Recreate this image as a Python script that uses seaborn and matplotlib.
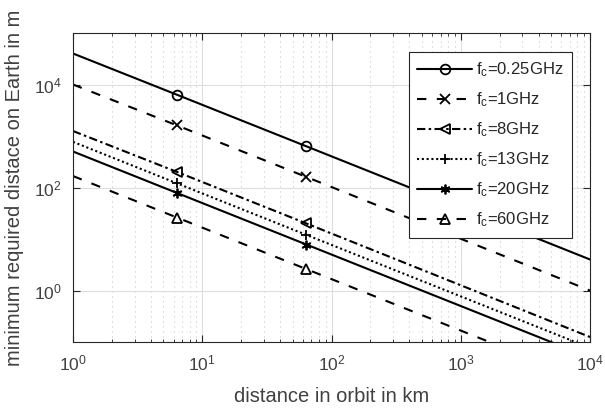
import matplotlib
matplotlib.use("Agg")
import matplotlib.pyplot as plt
import seaborn as sns
import numpy as np
import pandas as pd
from matplotlib.ticker import LogLocator, NullFormatter, FixedLocator

# ---- data ----
distance_km = [1.0, 6.4, 64.0, 1.0e4]
labels = [r"f$_\mathrm{c}$=0.25GHz", r"f$_\mathrm{c}$=1GHz", r"f$_\mathrm{c}$=8GHz",
          r"f$_\mathrm{c}$=13GHz", r"f$_\mathrm{c}$=20GHz", r"f$_\mathrm{c}$=60GHz"]
y_025 = [4.0e4, 6.3e3, 6.3e2, 4.0]
y_1 = [1.0e4, 1.6e3, 1.6e2, 1.0]
y_8 = [1.25e3, 2.0e2, 2.0e1, 0.125]
y_13 = [7.7e2, 1.2e2, 1.2e1, 0.077]
y_20 = [5.0e2, 7.8e1, 7.8, 0.05]
y_60 = [1.67e2, 2.6e1, 2.6, 0.0167]
series = [y_025, y_1, y_8, y_13, y_20, y_60]

markers = ["o", "x", "<", "+", (6, 2, 0), "^"]
lw = 1.5
styles = ["-", (0, (4.5, 5.0)), (0, (4.0, 1.6, 1.2, 1.6)), (0, (1.0, 1.3)), "-", (0, (4.5, 5.0))]

sns.set_style("ticks")
plt.rcParams["font.family"] = ["Liberation Sans", "DejaVu Sans"]
plt.rcParams["mathtext.fontset"] = "custom"
plt.rcParams["mathtext.rm"] = "Liberation Sans"
plt.rcParams["mathtext.it"] = "Liberation Sans:italic"
plt.rcParams["mathtext.bf"] = "Liberation Sans:bold"

fig = plt.figure(figsize=(6.05, 4.09), dpi=100)
ax = fig.add_axes([73 / 605, 1 - 342 / 409, (590 - 73) / 605, (342 - 33) / 409])

for lab, ys, mk, ls in zip(labels, series, markers, styles):
    df = pd.DataFrame({"x": distance_km, "y": ys})
    sns.lineplot(data=df, x="x", y="y", ax=ax, color="black", linewidth=lw,
                 linestyle=ls, marker=mk, markevery=[1, 2], markersize=7,
                 markerfacecolor="none", markeredgecolor="black",
                 markeredgewidth=1.3, label=lab, estimator=None, sort=False)

ax.set_xscale("log")
ax.set_yscale("log")
ax.set_xlim(1, 1e4)
ax.set_ylim(1e-1, 1e5)

ax.xaxis.set_major_locator(LogLocator(base=10, numticks=10))
ax.xaxis.set_minor_locator(LogLocator(base=10, subs=np.arange(2, 10), numticks=20))
ax.xaxis.set_minor_formatter(NullFormatter())
ax.yaxis.set_major_locator(FixedLocator([1e0, 1e2, 1e4]))
ax.yaxis.set_minor_locator(FixedLocator([]))

ax.grid(True, which="major", axis="both", color="#dedede", linestyle="-", linewidth=0.8)
ax.grid(True, which="minor", axis="x", color="#c8c8c8", linestyle=(0, (1, 3.5)), linewidth=0.8)
ax.set_axisbelow(True)

axcol = "#262626"
for s in ax.spines.values():
    s.set_color(axcol)
    s.set_linewidth(0.8)
    s.set_visible(True)
ax.tick_params(which="both", direction="in", top=True, right=True, color=axcol,
               labelcolor="#404040", labelsize=12.5)
ax.tick_params(which="major", length=5, width=0.8, pad=8)
ax.tick_params(which="minor", length=2.5, width=0.6)

ax.set_xlabel("distance in orbit in km", fontsize=14.5, color="#404040", labelpad=10)
ax.set_ylabel("minimum required distace on Earth in m", fontsize=14.5, color="#404040", labelpad=7)

leg = ax.legend(loc="upper right", bbox_to_anchor=(1 - 18 / 517, 1 - 19 / 309),
                borderaxespad=0, fontsize=12, frameon=True, fancybox=False,
                edgecolor=axcol, framealpha=1, handlelength=3.3, handletextpad=0.25,
                labelspacing=0.68, borderpad=0.5)
leg.get_frame().set_linewidth(0.8)

fig.savefig("out.png", dpi=100)
